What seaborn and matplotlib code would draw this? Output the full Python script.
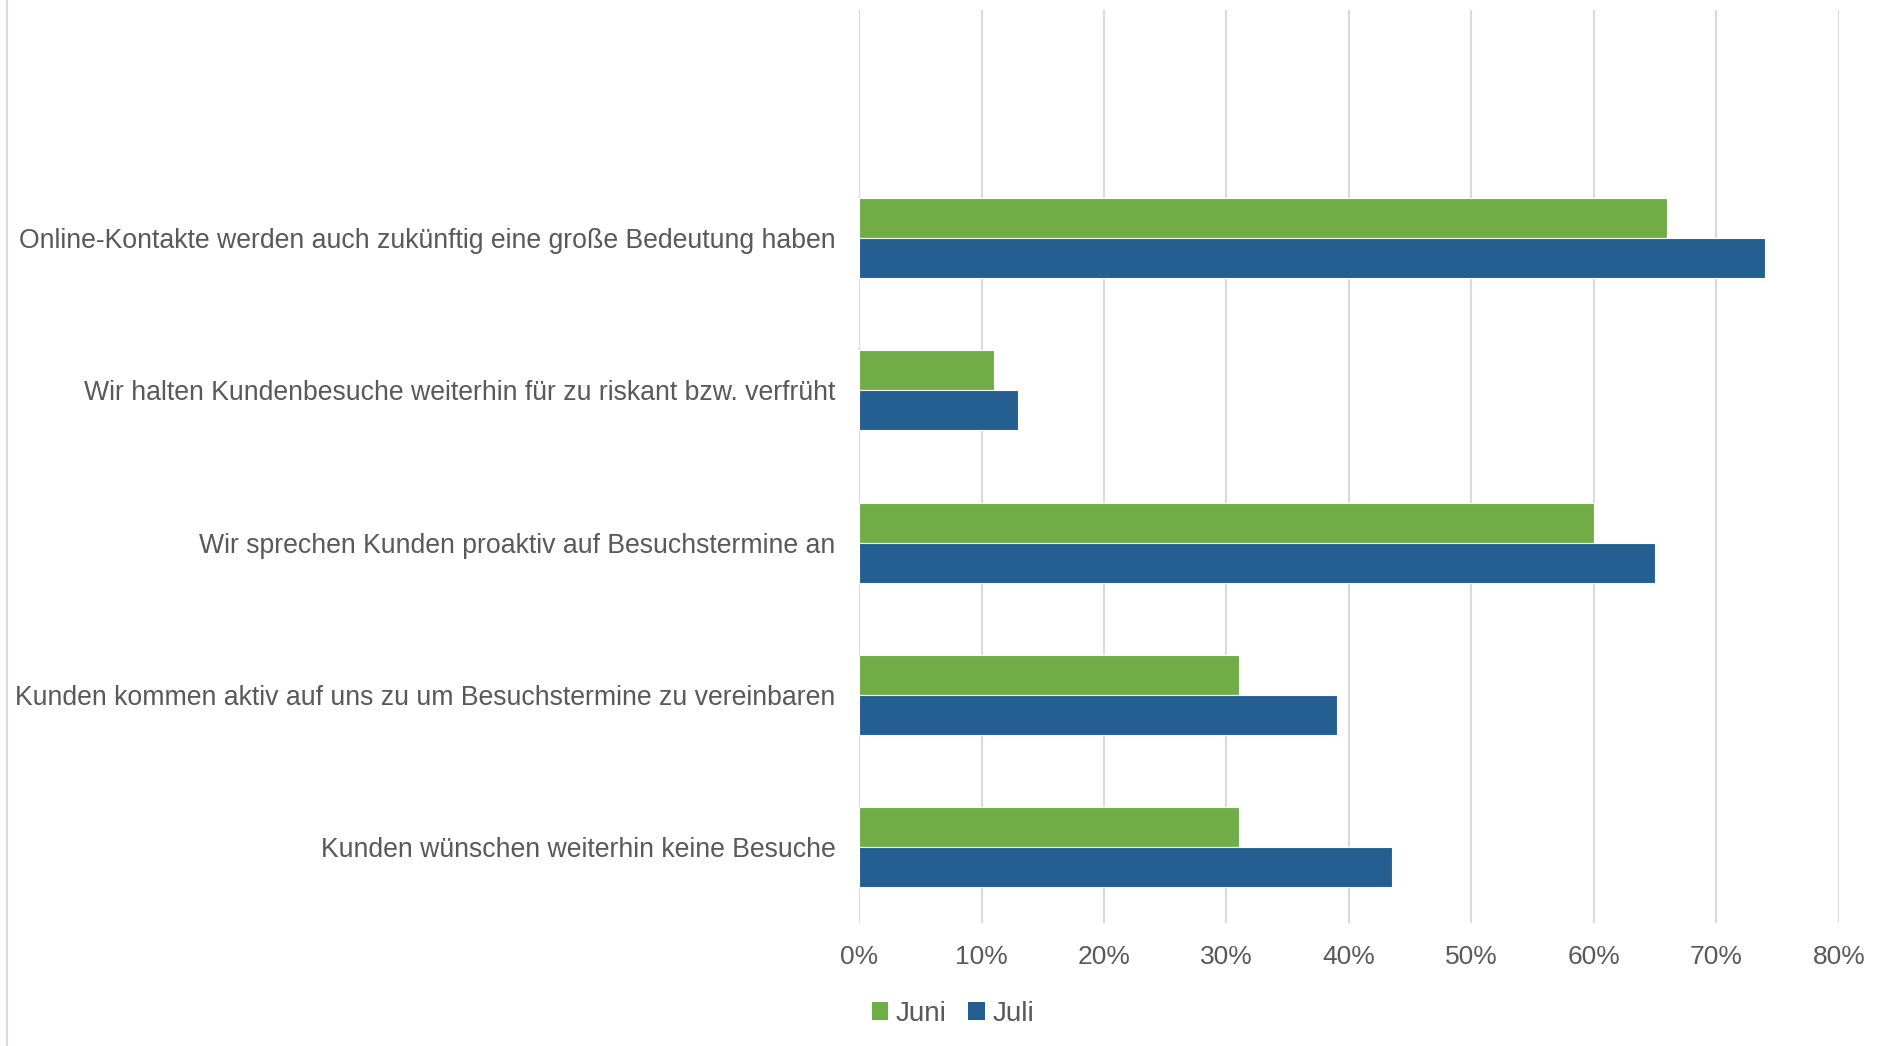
import seaborn as sns
import matplotlib.pyplot as plt
import pandas as pd
from matplotlib.ticker import PercentFormatter
from matplotlib.patches import Patch
from matplotlib.lines import Line2D

categories = [
    'Online-Kontakte werden auch zukünftig eine große Bedeutung haben',
    'Wir halten Kundenbesuche weiterhin für zu riskant bzw. verfrüht',
    'Wir sprechen Kunden proaktiv auf Besuchstermine an',
    'Kunden kommen aktiv auf uns zu um Besuchstermine zu vereinbaren',
    'Kunden wünschen weiterhin keine Besuche',
]

juni = [0.66, 0.11, 0.60, 0.31, 0.31]
juli = [0.74, 0.13, 0.65, 0.39, 0.435]

series = ['Juni', 'Juli']
colors = ['#70AD47', '#255E91']
TEXT = '#595959'
GRID = '#D9D9D9'

df = pd.DataFrame({
    'Aussage': categories * 2,
    'Monat': ['Juni'] * len(categories) + ['Juli'] * len(categories),
    'Anteil': juni + juli,
})

sns.set_style('white')
plt.rcParams['font.family'] = ['Liberation Sans', 'DejaVu Sans']

fig = plt.figure(figsize=(18.83, 10.46), dpi=100)
ax = fig.add_axes([0.4562, 0.1176, 0.5204, 0.8728])

sns.barplot(data=df, y='Aussage', x='Anteil', hue='Monat', order=categories,
            hue_order=series, palette=colors, saturation=1, orient='h',
            width=0.526, edgecolor='white', linewidth=0.8, legend=False, ax=ax)

# leave an empty slot above the first category, like the original
ax.set_ylim(4.5, -1.5)
ax.set_xlim(0, 0.8)
ax.set_xticks([i / 10 for i in range(9)])
ax.xaxis.set_major_formatter(PercentFormatter(1.0, decimals=0))
ax.grid(axis='x', color=GRID, linewidth=1.5)
ax.set_axisbelow(True)
for s in ax.spines.values():
    s.set_visible(False)
ax.set_xlabel('')
ax.set_ylabel('')
ax.tick_params(axis='y', length=0, pad=17, labelsize=19.2, labelcolor=TEXT)
ax.tick_params(axis='x', length=0, pad=16, labelsize=19, labelcolor=TEXT)

handles = [Patch(facecolor=c, edgecolor='none') for c in colors]
fig.legend(handles, series, loc='center', bbox_to_anchor=(0.506, 0.031),
           ncol=2, frameon=False, fontsize=20, labelcolor=TEXT,
           handlelength=0.6, handleheight=0.6, handletextpad=0.25,
           columnspacing=0.8)

# thin border line on the left edge of the chart area
fig.add_artist(Line2D([0.0035, 0.0035], [0.0, 1.0], color=GRID, linewidth=1.5,
                      transform=fig.transFigure))

fig.savefig('out.png', dpi=100)
